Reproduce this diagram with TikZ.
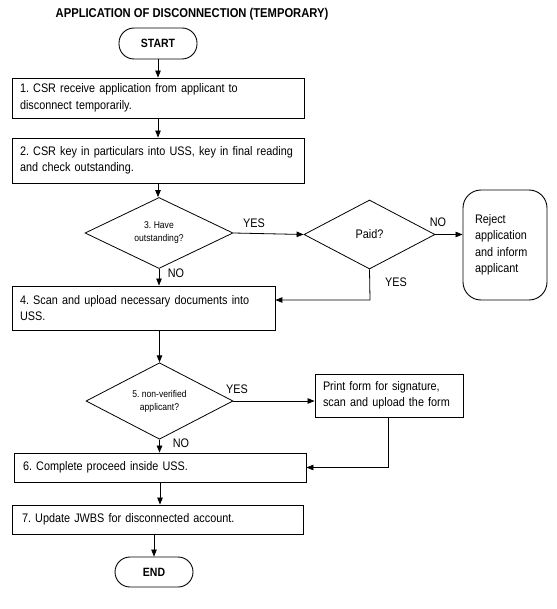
\documentclass[tikz,border=0pt]{standalone}
\usepackage{fontspec}
\setmainfont{Liberation Sans}[FakeStretch=0.875]
\usetikzlibrary{shapes.geometric,arrows.meta}
\frenchspacing

\begin{document}
\begin{tikzpicture}[x=1pt,y=-1pt,font=\fontsize{12.4}{16.5}\selectfont,
 box/.style={draw=black,line width=.9pt,align=left,inner xsep=8pt,inner ysep=0pt},
 term/.style={draw=black,line width=.9pt,rounded corners=15pt,minimum width=78pt,
              minimum height=31pt,font=\fontsize{12}{14}\selectfont\bfseries},
 dec/.style={diamond,draw=black,line width=.8pt,inner sep=0pt,align=center},
 tiny/.style={font=\fontsize{9.8}{13}\selectfont},
 lbl/.style={inner sep=0pt},
 arr/.style={line width=.8pt,-{Triangle[length=7pt,width=5.5pt]}}]
 \useasboundingbox (0,0) rectangle (556,609);
 \node[lbl,font=\fontsize{12.8}{15}\selectfont\bfseries] (title) at (192,14)
   {APPLICATION OF DISCONNECTION (TEMPORARY)};
 \node[term] (start) at (158,43.5) {START};
 \node[box,text width=276pt,minimum height=40pt] (b1) at (158,98)
   {1. CSR receive application from applicant to\\disconnect temporarily.};
 \node[box,text width=276pt,minimum height=45pt] (b2) at (158,160.5)
   {2. CSR key in particulars into USS, key in final reading\\and check outstanding.};
 \node[dec,tiny,minimum width=148pt,minimum height=62pt] (d3) at (159,233)
   {3. Have\\outstanding?};
 \node[dec,minimum width=131pt,minimum height=69pt] (paid) at (369.5,234.5) {Paid?};
 \node[box,rounded corners=18pt,inner xsep=12pt,text width=60pt,minimum height=110pt]
   (rej) at (505,245) {Reject\\application\\and inform\\applicant};
 \node[box,text width=247pt,minimum height=44pt] (b4) at (143.5,308)
   {4. Scan and upload necessary documents into\\USS.};
 \node[dec,tiny,minimum width=147pt,minimum height=68pt] (d5) at (159.5,401)
   {5. non-verified\\applicant?};
 \node[box,text width=132pt,minimum height=43pt] (prt) at (389,395.5)
   {Print form for signature,\\scan and upload the form};
 \node[box,text width=274pt,inner xsep=9pt,minimum height=29pt] (b6) at (160,467.5)
   {6. Complete proceed inside USS.};
 \node[box,text width=271pt,inner xsep=10pt,minimum height=29pt] (b7) at (157.5,519.5)
   {7. Update JWBS for disconnected account.};
 \node[term,minimum height=30pt] (end) at (154,572) {END};
 \coordinate (pj) at (370,300);
 % main column
 \foreach \a/\b in {start/b1,b1/b2,b2/d3,d3/b4,d5/b6,b6/b7}
   \draw[arr] (\a.south) -- (\a.south |- \b.north);
 \draw[arr] (d5.north |- b4.south) -- (d5.north);
 \draw[arr] (end |- b7.south) -- (end.north);
 % branches
 \draw[arr] (d3.east) -- (paid.west);
 \draw[arr] (paid.east) -- (rej.west |- paid.east);
 \draw[arr] (paid.south) -- (pj) -- (pj -| b4.east);
 \draw[arr] (d5.east) -- (d5.east -| prt.west);
 \draw[arr] (prt.south -| 388,0) |- (b6.east);
 \node[lbl] (yes3) at (254,223) {YES};
 \node[lbl] (no3) at (176,273) {NO};
 \node[lbl] (nopaid) at (438,222) {NO};
 \node[lbl] (yespaid) at (396,282) {YES};
 \node[lbl] (yes5) at (237,389) {YES};
 \node[lbl] (no5) at (181,443) {NO};
\end{tikzpicture}
\end{document}
